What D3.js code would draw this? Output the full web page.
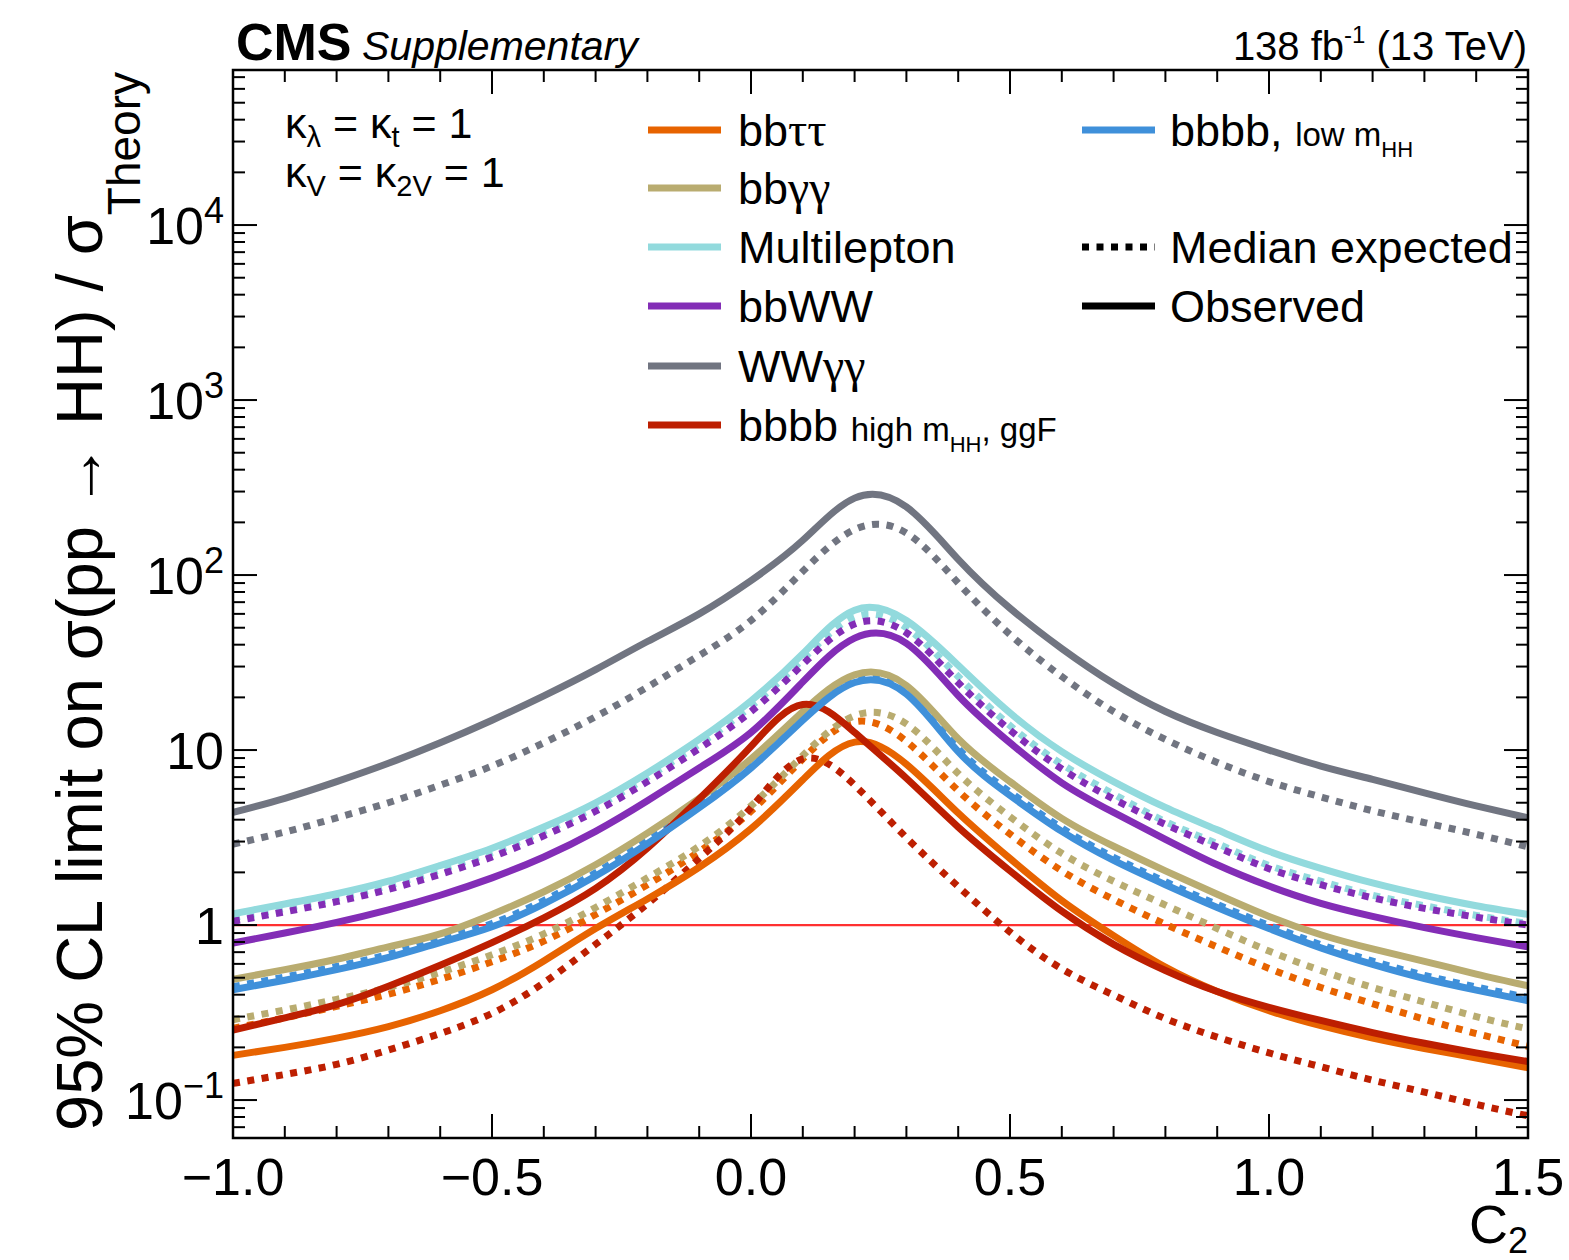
<!DOCTYPE html>
<html><head><meta charset="utf-8">
<script src="https://cdn.jsdelivr.net/npm/d3@7"></script>
<style>
html,body{margin:0;padding:0;background:#fff;}
svg{display:block;}
text{font-family:"Liberation Sans", Arial, Helvetica, sans-serif; fill:#000;}
.greek{font-family:"Liberation Serif", "Times New Roman", serif;}
</style></head><body>
<svg id="chart" width="1569" height="1260"></svg>
<script>
// C2 scan points
const c2Values = [-1.0, -0.9, -0.8, -0.7, -0.6, -0.5, -0.4, -0.3, -0.2, -0.1, 0.0,
                  0.1, 0.2, 0.3, 0.4, 0.5, 0.6, 0.7, 0.8, 0.9, 1.0, 1.1, 1.2, 1.3, 1.4, 1.5];

// 95% CL upper limits on sigma(pp -> HH) / sigma_Theory, per channel
const bbttObs     = [0.18, 0.20, 0.226, 0.263, 0.324, 0.427, 0.624, 0.955, 1.41, 2.14, 3.55,
                     6.76, 11.1, 8.3, 4.37, 2.40, 1.38, 0.87, 0.575, 0.417, 0.324, 0.266, 0.226, 0.197, 0.174, 0.153];
const bbttExp     = [0.257, 0.295, 0.343, 0.403, 0.49, 0.617, 0.81, 1.15, 1.70, 2.63, 4.47,
                     8.9, 14.5, 11.2, 5.85, 3.31, 2.04, 1.40, 1.01, 0.75, 0.565, 0.44, 0.355, 0.29, 0.24, 0.203];
const bbggObs     = [0.49, 0.556, 0.638, 0.75, 0.89, 1.15, 1.55, 2.21, 3.35, 5.3, 8.9,
                     16.6, 26.9, 23.4, 11.6, 6.6, 4.07, 2.82, 2.04, 1.50, 1.12, 0.88, 0.73, 0.62, 0.525, 0.45];
const bbggExp     = [0.288, 0.327, 0.376, 0.44, 0.537, 0.676, 0.89, 1.26, 1.86, 2.82, 4.8,
                     9.3, 15.7, 14.1, 7.35, 4.16, 2.57, 1.78, 1.30, 0.955, 0.71, 0.55, 0.44, 0.363, 0.30, 0.255];
const multilepObs = [1.16, 1.32, 1.51, 1.78, 2.19, 2.75, 3.63, 5.0, 7.4, 11.5, 19.1,
                     35.5, 63, 55, 30.5, 16.3, 9.8, 6.6, 4.7, 3.5, 2.64, 2.11, 1.74, 1.48, 1.29, 1.15];
const multilepExp = [1.10, 1.245, 1.43, 1.68, 2.07, 2.60, 3.43, 4.73, 7.0, 10.8, 17.8,
                     33, 57.5, 50, 26.3, 13.8, 8.3, 5.6, 3.9, 2.92, 2.19, 1.78, 1.48, 1.29, 1.135, 1.02];
const bbwwObs     = [0.79, 0.90, 1.035, 1.22, 1.48, 1.86, 2.45, 3.43, 5.13, 7.9, 12.6,
                     24.5, 43.6, 40.7, 20.5, 11.0, 6.5, 4.4, 3.09, 2.21, 1.67, 1.33, 1.12, 0.966, 0.847, 0.75];
const bbwwExp     = [1.05, 1.19, 1.36, 1.60, 1.95, 2.45, 3.24, 4.47, 6.6, 10.2, 16.6,
                     30.9, 52.5, 46.8, 24.3, 13.0, 7.8, 5.25, 3.76, 2.79, 2.10, 1.70, 1.43, 1.245, 1.11, 1.00];
const wwggObs     = [4.4, 5.3, 6.6, 8.4, 11.0, 14.8, 20.4, 28.8, 41.7, 60, 93,
                     158, 275, 245, 123, 64.6, 38, 24, 16.6, 12.6, 10.0, 8.1, 6.8, 5.7, 4.8, 4.1];
const wwggExp     = [2.9, 3.4, 4.1, 5.0, 6.3, 8.1, 11.0, 15.5, 22.9, 34.7, 55,
                     105, 182, 174, 90, 45.7, 26.3, 16.6, 11.5, 8.5, 6.6, 5.4, 4.5, 3.85, 3.3, 2.8];
const bbbbHighObs = [0.251, 0.295, 0.351, 0.447, 0.589, 0.794, 1.10, 1.62, 2.75, 5.25, 10.5,
                     18.2, 12.6, 6.9, 3.63, 2.04, 1.20, 0.776, 0.55, 0.417, 0.339, 0.285, 0.243, 0.211, 0.186, 0.166];
const bbbbHighExp = [0.1245, 0.14, 0.16, 0.193, 0.24, 0.313, 0.468, 0.776, 1.32, 2.40, 4.68,
                     8.9, 6.3, 3.16, 1.66, 0.912, 0.562, 0.398, 0.292, 0.229, 0.186, 0.155, 0.130, 0.111, 0.0944, 0.0813];
const bbbbLowObs  = [0.427, 0.484, 0.556, 0.653, 0.794, 0.977, 1.32, 1.905, 2.92, 4.68, 7.9,
                     14.8, 24.3, 20.9, 9.8, 5.5, 3.43, 2.34, 1.70, 1.26, 0.955, 0.741, 0.596, 0.495, 0.425, 0.369];
const bbbbLowExp  = [0.445, 0.505, 0.58, 0.68, 0.83, 1.02, 1.38, 1.99, 3.05, 4.88, 8.25,
                     15.4, 25.3, 21.8, 10.2, 5.75, 3.58, 2.44, 1.77, 1.31, 0.996, 0.773, 0.622, 0.516, 0.443, 0.385];

// Axis ticks
const xMajorTicks = [-1.0, -0.5, 0.0, 0.5, 1.0, 1.5];
const xTickLabels = ["\u22121.0", "\u22120.5", "0.0", "0.5", "1.0", "1.5"];
const yMajorTicks = [0.1, 1, 10, 100, 1000, 10000];
const yTickBase   = ["10", "1", "10", "10", "10", "10"];
const yTickExp    = ["\u22121", "", "", "2", "3", "4"];

// Channel styling
const channels = [
  {obs: bbttObs,     exp: bbttExp,     color: "#e76300"},
  {obs: bbggObs,     exp: bbggExp,     color: "#b9ac70"},
  {obs: multilepObs, exp: multilepExp, color: "#92dadd"},
  {obs: bbwwObs,     exp: bbwwExp,     color: "#832db6"},
  {obs: wwggObs,     exp: wwggExp,     color: "#717581"},
  {obs: bbbbHighObs, exp: bbbbHighExp, color: "#bd1f01"},
  {obs: bbbbLowObs,  exp: bbbbLowExp,  color: "#3f90da"}
];

const svg = d3.select("#chart");
const L = 233, R = 1528, T = 70, B = 1138;

const x = d3.scaleLinear().domain([-1, 1.5]).range([L, R]);
const y = d3.scaleLog().domain([0.0607, 76900]).range([B, T]);

svg.append("rect").attr("width", 1569).attr("height", 1260).attr("fill", "#fff");

svg.append("defs").append("clipPath").attr("id", "plotclip")
  .append("rect").attr("x", L).attr("y", T).attr("width", R - L).attr("height", B - T);

const plot = svg.append("g").attr("clip-path", "url(#plotclip)");

// reference line at 1
plot.append("line")
  .attr("x1", L).attr("x2", R).attr("y1", y(1)).attr("y2", y(1))
  .attr("stroke", "#ff3030").attr("stroke-width", 2.2);

const line = d3.line()
  .x((d, i) => x(c2Values[i]))
  .y(d => y(d))
  .curve(d3.curveNatural);

const LW = 7;
// expected (dotted)
channels.forEach(ch => {
  plot.append("path").attr("d", line(ch.exp))
    .attr("fill", "none").attr("stroke", ch.color)
    .attr("stroke-width", LW).attr("stroke-dasharray", "7 7.5");
});
// observed (solid)
channels.forEach(ch => {
  plot.append("path").attr("d", line(ch.obs))
    .attr("fill", "none").attr("stroke", ch.color)
    .attr("stroke-width", LW);
});

// frame
svg.append("rect").attr("x", L).attr("y", T).attr("width", R - L).attr("height", B - T)
  .attr("fill", "none").attr("stroke", "#000").attr("stroke-width", 2.5);

// ticks
const ticks = svg.append("g").attr("stroke", "#000").attr("stroke-width", 2);
const MAJ = 24, MIN = 12;
d3.range(-10, 16).forEach(k => {
  const v = k / 10;
  const len = (k % 5 === 0) ? MAJ : MIN;
  const px = x(v);
  ticks.append("line").attr("x1", px).attr("x2", px).attr("y1", B).attr("y2", B - len);
  ticks.append("line").attr("x1", px).attr("x2", px).attr("y1", T).attr("y2", T + len);
});
const [ylo, yhi] = y.domain();
for (let e = -2; e <= 4; e++) {
  for (let m = 1; m <= 9; m++) {
    const v = m * Math.pow(10, e);
    if (v < ylo || v > yhi) continue;
    const len = m === 1 ? MAJ : MIN;
    const py = y(v);
    ticks.append("line").attr("x1", L).attr("x2", L + len).attr("y1", py).attr("y2", py);
    ticks.append("line").attr("x1", R).attr("x2", R - len).attr("y1", py).attr("y2", py);
  }
}

// x tick labels
xMajorTicks.forEach((v, i) => {
  svg.append("text").attr("x", x(v)).attr("y", 1195)
    .attr("text-anchor", "middle").attr("font-size", 52)
    .text(xTickLabels[i]);
});

// y tick labels
yMajorTicks.forEach((v, i) => {
  const t = svg.append("text").attr("x", 224).attr("y", y(v) + 19)
    .attr("text-anchor", "end").attr("font-size", 52);
  t.append("tspan").text(yTickBase[i]);
  if (yTickExp[i]) {
    t.append("tspan").attr("font-size", 36).attr("dy", -21).text(yTickExp[i]);
  }
});

// y axis title
const yt = svg.append("text")
  .attr("transform", "translate(102,1131) rotate(-90)")
  .attr("font-size", 65);
yt.append("tspan").text("95% CL limit on \u03c3(pp \u2192 HH) / \u03c3");
yt.append("tspan").attr("font-size", 46).attr("dy", 38).text("Theory");

// x axis title
const xt = svg.append("text").attr("x", 1528).attr("y", 1243)
  .attr("text-anchor", "end").attr("font-size", 54);
xt.append("tspan").text("C");
xt.append("tspan").attr("font-size", 36).attr("dy", 10).text("2");

// header
svg.append("text").attr("x", 236).attr("y", 60)
  .attr("font-size", 52).attr("font-weight", "bold").text("CMS");
svg.append("text").attr("x", 362).attr("y", 60)
  .attr("font-size", 41).attr("font-style", "italic").text("Supplementary");
const lumi = svg.append("text").attr("x", 1527).attr("y", 60)
  .attr("text-anchor", "end").attr("font-size", 40);
lumi.append("tspan").text("138 fb");
lumi.append("tspan").attr("font-size", 24).attr("dy", -17).text("-1");
lumi.append("tspan").attr("dy", 17).text(" (13 TeV)");

// coupling annotation
function kappaLine(yb, parts) {
  const t = svg.append("text").attr("x", 285).attr("y", yb).attr("font-size", 43);
  parts.forEach(p => {
    const s = t.append("tspan").text(p.t);
    if (p.sub) s.attr("font-size", 29).attr("dy", 9);
    if (p.back) s.attr("dy", -9);
  });
}
kappaLine(138, [{t: "\u03ba"}, {t: "\u03bb", sub: true}, {t: " = \u03ba", back: true}, {t: "t", sub: true}, {t: " = 1", back: true}]);
kappaLine(187, [{t: "\u03ba"}, {t: "V", sub: true}, {t: " = \u03ba", back: true}, {t: "2V", sub: true}, {t: " = 1", back: true}]);

// legend
const legendRows = [130, 188, 247, 306, 366, 425];
const legendLabels = [["bb", "\u03c4\u03c4"], ["bb", "\u03b3\u03b3"], ["Multilepton", ""], ["bbWW", ""], ["WW", "\u03b3\u03b3"]];
function legLine(x1, yy, color, dashed) {
  const l = svg.append("line").attr("x1", x1).attr("x2", x1 + 73).attr("y1", yy).attr("y2", yy)
    .attr("stroke", color).attr("stroke-width", LW);
  if (dashed) l.attr("stroke-dasharray", "7 7.5");
}
channels.slice(0, 6).forEach((ch, i) => legLine(648, legendRows[i], ch.color, false));
legendLabels.forEach((lab, i) => {
  const t = svg.append("text").attr("x", 738).attr("y", legendRows[i] + 16).attr("font-size", 45);
  t.append("tspan").text(lab[0]);
  if (lab[1]) t.append("tspan").attr("class", "greek").attr("font-size", 48).text(lab[1]);
});
{
  const t = svg.append("text").attr("x", 738).attr("y", legendRows[5] + 16).attr("font-size", 45);
  t.append("tspan").text("bbbb ");
  t.append("tspan").attr("font-size", 33).text("high m");
  t.append("tspan").attr("font-size", 22).attr("dy", 11).text("HH");
  t.append("tspan").attr("font-size", 33).attr("dy", -11).text(", ggF");
}
legLine(1082, legendRows[0], channels[6].color, false);
{
  const t = svg.append("text").attr("x", 1170).attr("y", legendRows[0] + 16).attr("font-size", 45);
  t.append("tspan").text("bbbb, ");
  t.append("tspan").attr("font-size", 33).text("low m");
  t.append("tspan").attr("font-size", 22).attr("dy", 11).text("HH");
}
legLine(1082, legendRows[2], "#000", true);
svg.append("text").attr("x", 1170).attr("y", legendRows[2] + 16).attr("font-size", 45).text("Median expected");
legLine(1082, legendRows[3], "#000", false);
svg.append("text").attr("x", 1170).attr("y", legendRows[3] + 16).attr("font-size", 45).text("Observed");
</script>
</body></html>
